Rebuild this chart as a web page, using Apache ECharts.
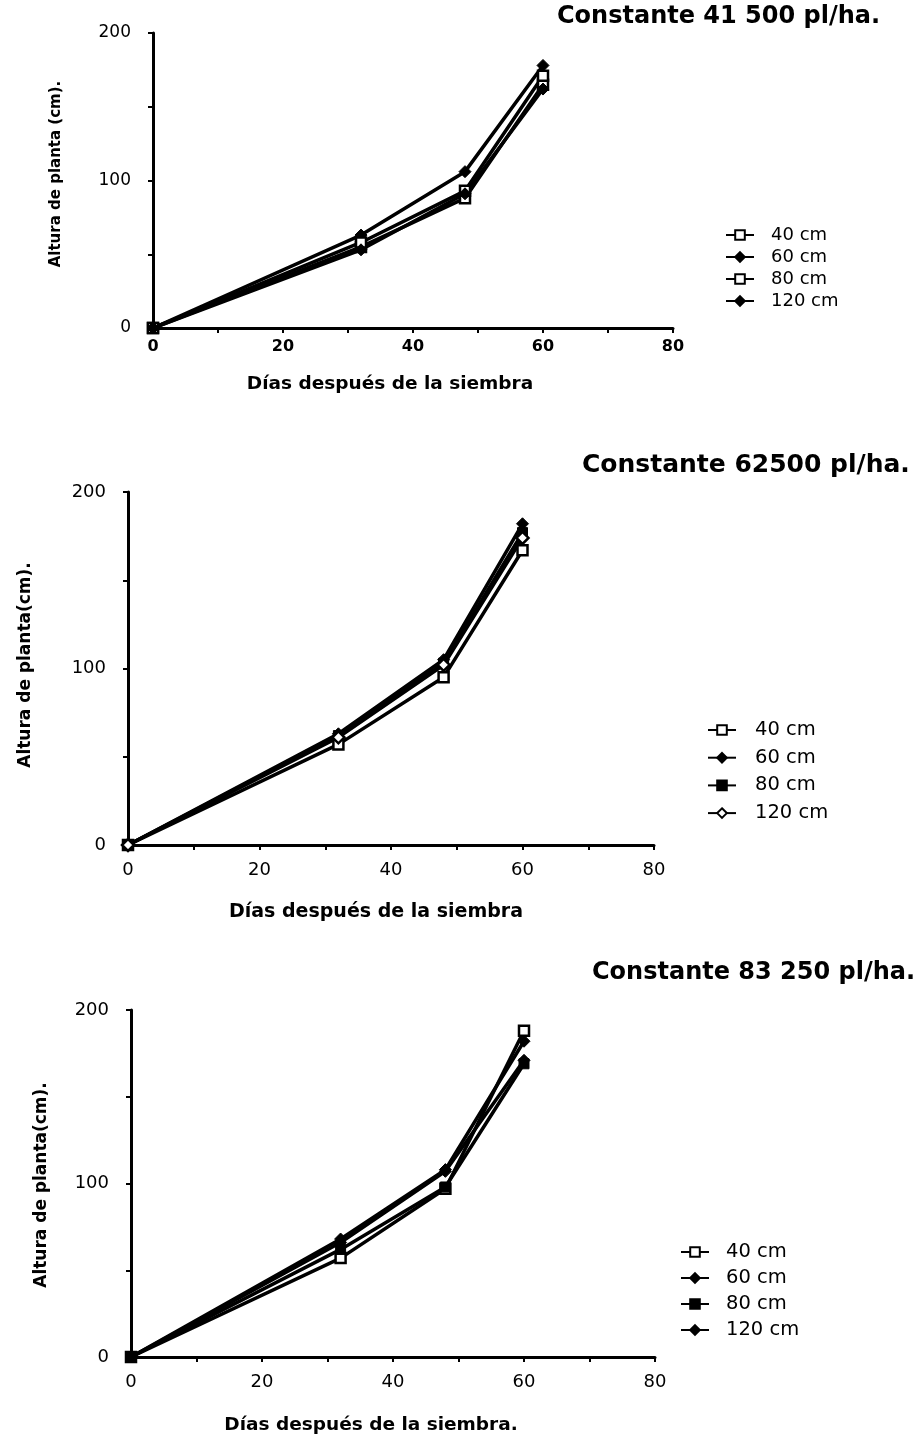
<!DOCTYPE html>
<html>
<head>
<meta charset="utf-8">
<script src="https://cdn.jsdelivr.net/npm/echarts@6/dist/echarts.min.js"></script>
<style>html,body{margin:0;padding:0;background:#fff}#c{width:924px;height:1440px}</style>
</head>
<body>
<div id="c"></div>
<script>
// ---- data ----
const days = [0, 32, 48, 60];
const seriesNames = ['40 cm', '60 cm', '80 cm', '120 cm'];
const xTicks = [0, 20, 40, 60, 80];
const yTicks = [0, 100, 200];
const titles = ['Constante 41 500 pl/ha.', 'Constante 62500 pl/ha.', 'Constante 83 250 pl/ha.'];
const xNames = ['Días después de la siembra', 'Días después de la siembra', 'Días después de la siembra.'];
const yNames = ['Altura de planta (cm).', 'Altura de planta(cm).', 'Altura de planta(cm).'];

// Constante 41 500 pl/ha.
const c1_40 = [0, 55, 88, 165];
const c1_60 = [0, 63, 106, 178];
const c1_80 = [0, 58, 93, 171];
const c1_120 = [0, 53, 91, 162];
// Constante 62500 pl/ha.
const c2_40 = [0, 57, 95, 167];
const c2_60 = [0, 63, 105, 182];
const c2_80 = [0, 62, 103, 177];
const c2_120 = [0, 61, 102, 174];
// Constante 83 250 pl/ha.
const c3_40 = [0, 57, 97, 188];
const c3_60 = [0, 66, 107, 171];
const c3_80 = [0, 62, 98, 169];
const c3_120 = [0, 68, 108, 182];

const panelData = [[c1_40, c1_60, c1_80, c1_120], [c2_40, c2_60, c2_80, c2_120], [c3_40, c3_60, c3_80, c3_120]];
// marker styles per panel: [symbol, open?]
const markers = [
  [['rect', true], ['diamond', false], ['rect', true], ['diamond', false]],
  [['rect', true], ['diamond', false], ['rect', false], ['diamond', true]],
  [['rect', true], ['diamond', false], ['rect', false], ['diamond', false]]
];

// ---- layout ----
const grids = [
  {left: 153, top: 33, width: 520, height: 295},
  {left: 128, top: 492, width: 526, height: 353},
  {left: 131, top: 1010, width: 524, height: 347}
];
const xTickFont = [{size: 16, weight: 'bold', margin: 11}, {size: 18, weight: 'normal', margin: 16}, {size: 18, weight: 'normal', margin: 16}];
const yTickFont = [{size: 17, margin: 22}, {size: 18, margin: 22}, {size: 18, margin: 22}];
const legendPos = [
  {left: 725, top: 226, lh: 18, gap: 4, pad: 12, fs: 18},
  {left: 707, top: 720, lh: 20, gap: 7.7, pad: 14, fs: 19.5},
  {left: 680, top: 1242, lh: 20, gap: 6, pad: 12, fs: 19.5}
];
const titlePos = [{left: 557, top: 5, fs: 24}, {left: 582, top: 453, fs: 25}, {left: 592, top: 961, fs: 24}];
const xNamePos = [[390, 384, 18.5], [376, 912, 19], [371, 1425, 18.5]];
const yNamePos = [[56, 174, 15], [26, 665, 17], [42, 1185, 17]];

const FONT = 'DejaVu Sans';
const option = {
  animation: false,
  backgroundColor: '#fff',
  grid: grids.map(g => Object.assign({containLabel: false}, g)),
  title: titles.map((t, i) => ({
    text: t, left: titlePos[i].left, top: titlePos[i].top, padding: 0,
    textStyle: {fontFamily: FONT, fontWeight: 'bold', fontSize: titlePos[i].fs, color: '#000'}
  })),
  xAxis: grids.map((g, i) => ({
    type: 'value', gridIndex: i, min: 0, max: 80, interval: 10,
    axisLine: {show: true, onZero: false, lineStyle: {color: '#000', width: 3}},
    axisTick: {show: true, inside: false, length: 5, lineStyle: {color: '#000', width: 2}},
    splitLine: {show: false},
    axisLabel: {
      margin: xTickFont[i].margin, color: '#000', fontFamily: FONT, fontSize: xTickFont[i].size, fontWeight: xTickFont[i].weight,
      formatter: v => xTicks.indexOf(v) >= 0 ? String(v) : ''
    }
  })),
  yAxis: grids.map((g, i) => ({
    type: 'value', gridIndex: i, min: 0, max: 200, interval: 50,
    axisLine: {show: true, onZero: false, lineStyle: {color: '#000', width: 3}},
    axisTick: {show: true, inside: false, length: 5, lineStyle: {color: '#000', width: 2}},
    splitLine: {show: false},
    axisLabel: {
      margin: yTickFont[i].margin, color: '#000', fontFamily: FONT, fontSize: yTickFont[i].size, fontWeight: 'normal',
      formatter: v => yTicks.indexOf(v) >= 0 ? String(v) : ''
    }
  })),
  legend: legendPos.map((p, i) => ({
    orient: 'vertical', left: p.left, top: p.top, padding: 0,
    itemWidth: 28, itemHeight: 12, itemGap: p.gap,
    data: seriesNames.map(n => 'p' + i + '|' + n),
    formatter: n => n.split('|')[1],
    textStyle: {fontFamily: FONT, fontSize: p.fs, color: '#000', lineHeight: p.lh, padding: [0, 0, 0, p.pad]}
  })),
  graphic: [
    ...xNames.map((t, i) => ({
      type: 'text', x: xNamePos[i][0], y: xNamePos[i][1],
      style: {text: t, fontFamily: FONT, fontWeight: 'bold', fontSize: xNamePos[i][2], fill: '#000', align: 'center', verticalAlign: 'middle'}
    })),
    ...yNames.map((t, i) => ({
      type: 'text', x: yNamePos[i][0], y: yNamePos[i][1], rotation: Math.PI / 2,
      style: {text: t, fontFamily: FONT, fontWeight: 'bold', fontSize: yNamePos[i][2], fill: '#000', align: 'center', verticalAlign: 'middle'}
    }))
  ],
  series: []
};

panelData.forEach((arrs, i) => {
  arrs.forEach((vals, k) => {
    const [sym, open] = markers[i][k];
    option.series.push({
      type: 'line', name: 'p' + i + '|' + seriesNames[k],
      xAxisIndex: i, yAxisIndex: i,
      data: days.map((d, j) => [d, vals[j]]),
      symbol: sym, symbolSize: sym === 'diamond' ? 12 : 10,
      showSymbol: true,
      lineStyle: {color: '#000', width: 3.5},
      itemStyle: open ? {color: '#fff', borderColor: '#000', borderWidth: 2.5} : {color: '#000', borderColor: '#000', borderWidth: 1},
      z: 2
    });
  });
});

const chart = echarts.init(document.getElementById('c'), null, {renderer: 'canvas'});
chart.setOption(option);
</script>
</body>
</html>
